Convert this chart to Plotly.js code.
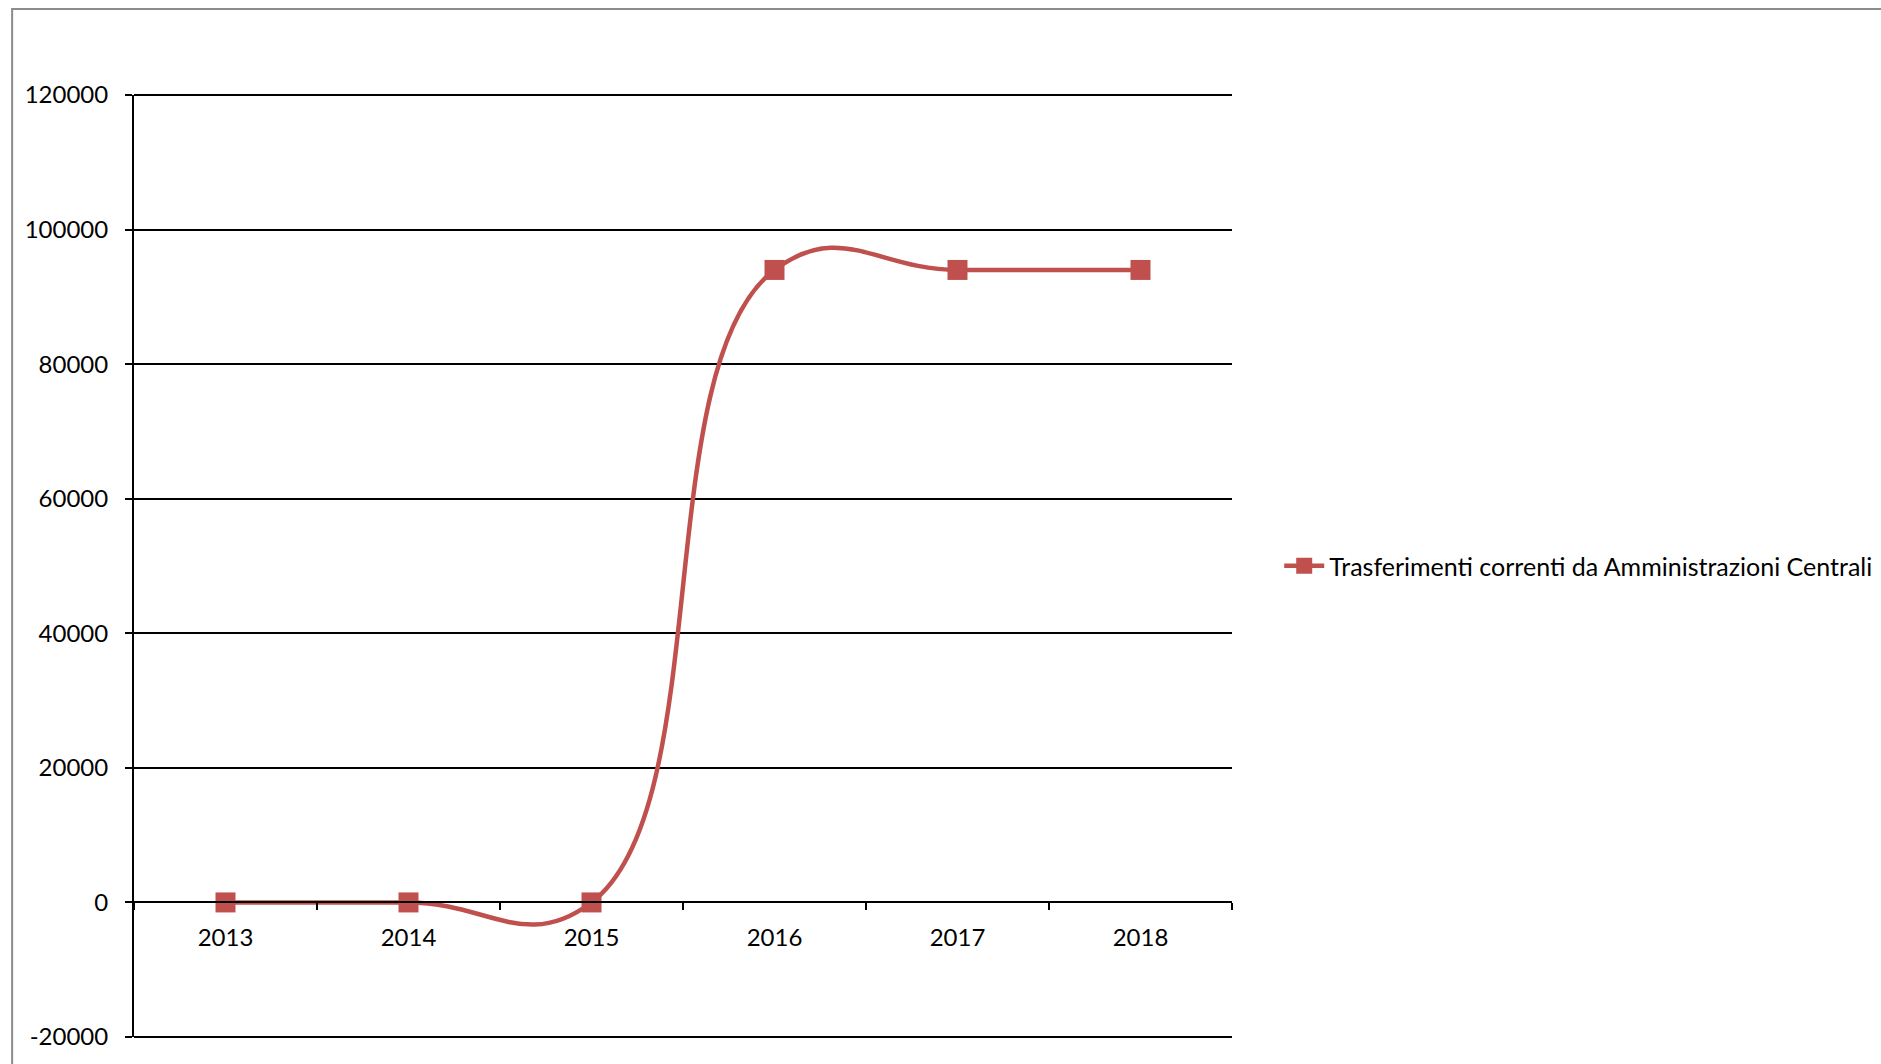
<!DOCTYPE html>
<html>
<head>
<meta charset="utf-8">
<script src="https://cdn.plot.ly/plotly-3.0.1.min.js"></script>
<style>html,body{margin:0;padding:0;background:#fff;}#chart{width:1881px;height:1064px;}</style>
</head>
<body>
<div id="chart"></div>
<script>
const years = ["2013", "2014", "2015", "2016", "2017", "2018"];
const trasferimenti = [0, 0, 0, 94000, 94000, 94000];
const seriesName = "Trasferimenti correnti da Amministrazioni Centrali";
const yTicks = [-20000, 0, 20000, 40000, 60000, 80000, 100000, 120000];

const red = "#C0504D";
const fontFam = "Lato, 'Liberation Sans', sans-serif";

const trace = {
  x: years,
  y: trasferimenti,
  name: seriesName,
  type: "scatter",
  mode: "lines+markers",
  line: {color: red, width: 4.5, shape: "spline", smoothing: 1.3},
  marker: {symbol: "square", size: 20, color: red},
  showlegend: true
};

const layout = {
  width: 1881,
  height: 1064,
  paper_bgcolor: "#ffffff",
  plot_bgcolor: "#ffffff",
  margin: {l: 134, r: 649, t: 95, b: 27, autoexpand: false},
  font: {family: fontFam, size: 24, color: "#000"},
  showlegend: true,
  legend: {
    x: 1.043, xanchor: "left", y: 0.5, yanchor: "middle",
    font: {family: fontFam, size: 25, color: "#000"},
    bgcolor: "rgba(0,0,0,0)", itemwidth: 40
  },
  xaxis: {
    type: "category",
    range: [-0.5, 5.5],
    anchor: "free",
    position: 20000 / 140000,
    showline: true, linecolor: "#000", linewidth: 2,
    ticks: "outside", ticklen: 7, tickcolor: "#000", tickwidth: 2,
    tickson: "boundaries",
    showgrid: false,
    zeroline: false,
    tickfont: {family: fontFam, size: 24, color: "#000"},
    ticklabelstandoff: 14,
    fixedrange: true
  },
  yaxis: {
    range: [-20000, 120000],
    tickvals: yTicks,
    ticktext: yTicks.map(String),
    showline: true, linecolor: "#000", linewidth: 2,
    ticks: "outside", ticklen: 7, tickcolor: "#000", tickwidth: 2,
    showgrid: true, gridcolor: "#000", gridwidth: 2,
    zeroline: false,
    tickfont: {family: fontFam, size: 24, color: "#000"},
    ticklabelstandoff: 12,
    fixedrange: true
  },
  shapes: [
    {type: "rect", xref: "paper", yref: "paper",
     x0: -0.111, x1: 1.8, y0: -0.2, y1: 1.0913,
     line: {color: "#8c8c8c", width: 2}, fillcolor: "rgba(0,0,0,0)", layer: "below"},
    {type: "line", xref: "paper", yref: "paper", x0: 0, x1: 1, y0: 0, y1: 0,
     line: {color: "#000", width: 2}, layer: "below"},
    {type: "line", xref: "paper", yref: "paper", x0: 0, x1: 1, y0: 1, y1: 1,
     line: {color: "#000", width: 2}, layer: "below"}
  ]
};

Plotly.newPlot("chart", [trace], layout, {displayModeBar: false, staticPlot: true});
</script>
</body>
</html>
